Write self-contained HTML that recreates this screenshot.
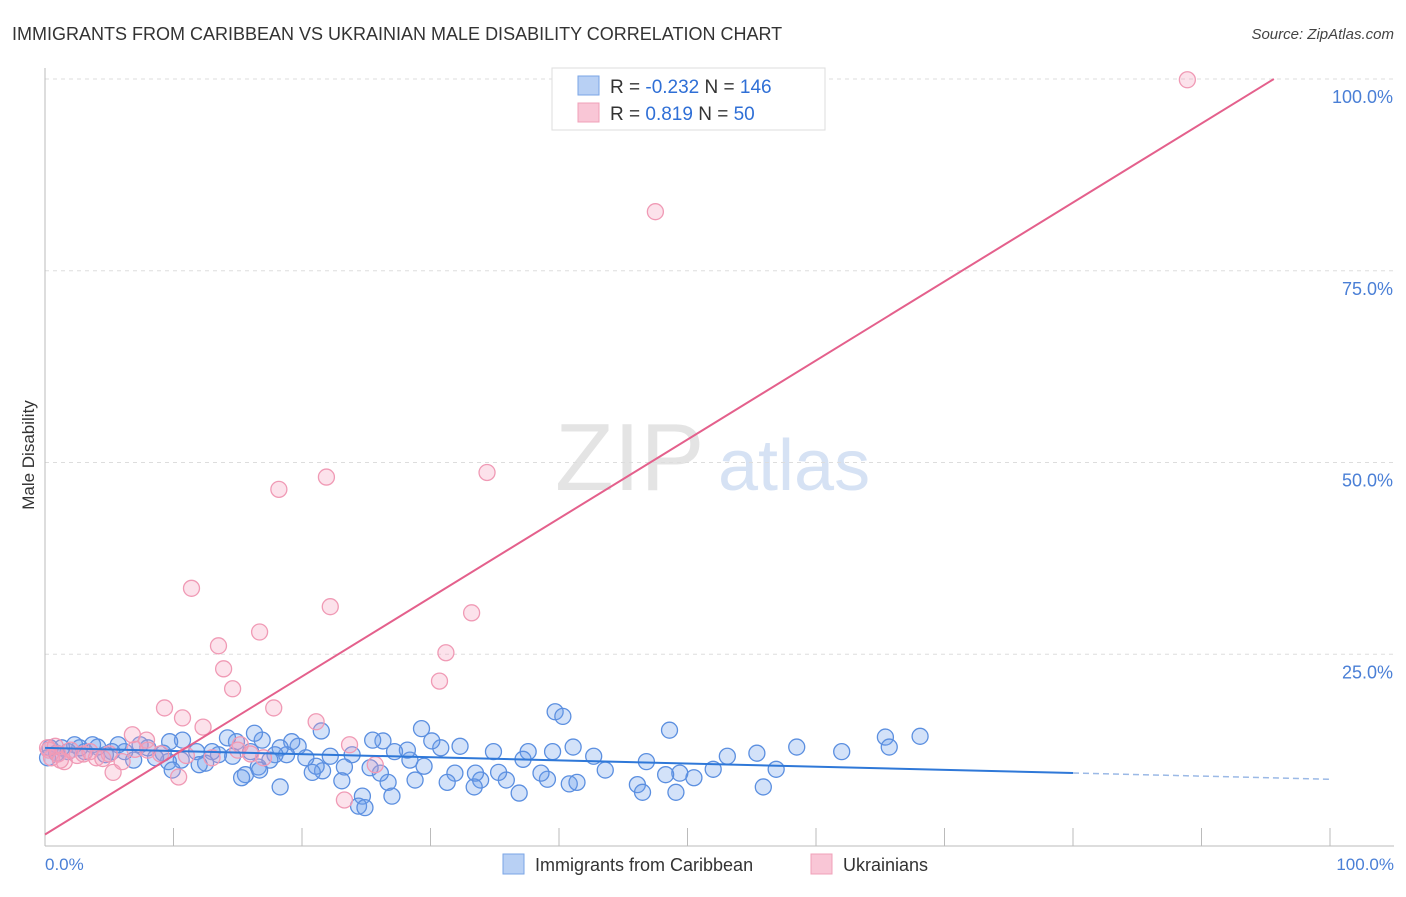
<!DOCTYPE html>
<html><head><meta charset="utf-8"><style>
body{margin:0;background:#fff;font-family:"Liberation Sans",sans-serif;}
svg text{font-family:"Liberation Sans",sans-serif;}
</style></head><body>
<svg id="chart" width="1406" height="892" xmlns="http://www.w3.org/2000/svg">
<text x="12" y="40" font-size="18" fill="#333">IMMIGRANTS FROM CARIBBEAN VS UKRAINIAN MALE DISABILITY CORRELATION CHART</text>
<text x="1394" y="39" font-size="15" fill="#444" text-anchor="end" font-style="italic">Source: ZipAtlas.com</text>
<text x="555" y="490" font-size="96" fill="#e4e4e4" font-family="Liberation Serif">ZIP</text>
<text x="718" y="490" font-size="72" fill="#d6e2f4">atlas</text>
<g id="grid"></g><g id="axes"></g><g id="pts"></g><g id="lines"></g>
<text transform="translate(34,455) rotate(-90)" font-size="17" fill="#333" text-anchor="middle">Male Disability</text>
<text x="45" y="870" font-size="17" fill="#4a7fd6">0.0%</text>
<text x="1394" y="870" font-size="17" fill="#4a7fd6" text-anchor="end">100.0%</text>
<g>
<rect x="552" y="68" width="273" height="62" fill="#fff" stroke="#ddd"/>
<rect x="578" y="76" width="21" height="19" fill="#b8d0f4" stroke="#7aa5e6"/>
<rect x="578" y="103" width="21" height="19" fill="#f9c6d6" stroke="#f0a0b8"/>
<text x="610" y="93" font-size="19" fill="#333">R = <tspan fill="#2f6fd6">-0.232</tspan>   N = <tspan fill="#2f6fd6">146</tspan></text>
<text x="610" y="120" font-size="19" fill="#333">R =   <tspan fill="#2f6fd6">0.819</tspan>   N =   <tspan fill="#2f6fd6">50</tspan></text>
</g>
<g>
<rect x="503" y="854" width="21" height="20" fill="#b8d0f4" stroke="#7aa5e6"/>
<text x="535" y="871" font-size="18" fill="#333">Immigrants from Caribbean</text>
<rect x="811" y="854" width="21" height="20" fill="#f9c6d6" stroke="#f0a0b8"/>
<text x="843" y="871" font-size="18" fill="#333">Ukrainians</text>
</g>
</svg>
<script>
const yTicks=[25,50,75,100];
const yTickLabels=["25.0%","50.0%","75.0%","100.0%"];
const xTicks=[0,10,20,30,40,50,60,70,80,90,100];
const blueX=[39.7,40.3,48.6,65.4,68.1,65.7,58.5,62,55.4,53.1,56.9,55.9,52,50.5,49.1,49.4,48.3,46.8,46.1,46.5,43.6,42.7,41.1,40.8,41.4,39.5,39.1,38.6,37.6,37.2,36.9,35.9,35.3,34.9,33.9,33.4,33.5,32.3,31.9,31.3,30.8,30.1,29.3,29.5,28.8,28.4,28.2,27.2,26.7,27,26.3,25.5,26.1,25.3,24.7,24.4,23.9,23.3,23.1,21.5,22.2,21.6,21.1,20.8,20.3,19.7,19.2,18.8,18.3,17.9,17.5,16.9,16.6,16.3,16,15.6,15.3,14.9,14.6,14.2,13.5,13,12.5,11.8,10.7,10.6,9.6,9.7,9.2,8.6,8,7.4,6.9,6.2,5.7,5.2,4.7,4.1,3.7,3.1,2.7,2.3,1.8,1.3,0.9,0.4,0.2,18.3,24.9,16.7,12,9.9];
const blueY=[17.5,16.9,15.1,14.2,14.3,12.9,12.9,12.3,12.1,11.7,10,7.7,10,8.9,7,9.5,9.3,11,8,7,9.9,11.7,12.9,8.1,8.3,12.3,8.7,9.5,12.3,11.3,6.9,8.6,9.6,12.3,8.6,7.7,9.5,13,9.5,8.3,12.8,13.7,15.3,10.4,8.6,11.2,12.5,12.3,8.3,6.5,13.7,13.8,9.5,10.2,6.5,5.2,11.9,10.3,8.5,15,11.7,9.8,10.4,9.6,11.5,13,13.6,11.9,12.8,11.9,11.2,13.8,10.3,14.7,12.3,9.3,8.9,13.6,11.7,14.1,11.9,12.3,10.8,12.3,13.8,11.2,11,13.6,12.1,11.5,12.8,13.2,11.2,12.3,13.2,12.3,11.9,12.9,13.2,12.3,12.8,13.2,12.3,12.8,12.1,12.8,11.5,7.7,5,9.9,10.6,9.9];
const pinkX=[88.9,47.5,34.4,21.9,18.2,11.4,22.2,33.2,13.5,16.7,31.2,13.9,30.7,14.6,9.3,17.8,10.7,12.3,21.1,6.8,7.9,5.3,10.4,23.3,25.7,23.7,15.2,0.3,0.5,1,1.5,2,3,4,5,6,8,9,13,15,16,17,0.8,1.2,2.5,3.5,4.5,7,11,0.2];
const pinkY=[99.9,82.7,48.7,48.1,46.5,33.6,31.2,30.4,26.1,27.9,25.2,23.1,21.5,20.5,18,18,16.7,15.5,16.2,14.5,13.8,9.6,9,6,10.6,13.2,13.2,12.5,11.5,12,11,12.5,12,11.5,12,11,12.5,12,11.5,12.5,12,11.5,13,11.2,11.8,12.3,11.4,12.6,11.8,12.8];
const blueIntercept=12.8, blueSlope=-0.041, blueSolidEnd=80;
const pinkIntercept=1.5, pinkSlope=1.03;
const X0=45,X1=1330,Y0=846,Y100=79;
const sx=v=>X0+(X1-X0)*v/100, sy=v=>Y0-(Y0-Y100)*v/100;
const NS="http://www.w3.org/2000/svg";
function mk(p,t,a){const e=document.createElementNS(NS,t);for(const k in a)e.setAttribute(k,a[k]);p.appendChild(e);return e;}
const grid=document.getElementById('grid'),axes=document.getElementById('axes'),pts=document.getElementById('pts'),lines=document.getElementById('lines');
yTicks.forEach((t,i)=>{
 const l=mk(grid,'line',{x1:X0,x2:1394,y1:sy(t),y2:sy(t),stroke:'#ddd','stroke-dasharray':'4,4'});
 
 
 const tx=mk(grid,'text',{x:1393,y:sy(t)+24,'font-size':18,fill:'#4a7fd6','text-anchor':'end'});
 tx.textContent=yTickLabels[i];
 
 
});
const ya=mk(axes,'line',{x1:X0,x2:X0,y1:68,y2:846,stroke:'#bbb'});


const xa=mk(axes,'line',{x1:X0,x2:1394,y1:846,y2:846,stroke:'#bbb'});


xTicks.forEach(t=>{
 const k=mk(axes,'line',{x1:sx(t),x2:sx(t),y1:828,y2:846,stroke:'#bbb'});
 
 
});
blueX.forEach((x,i)=>{
 const c=mk(pts,'circle',{cx:sx(x),cy:sy(blueY[i]),r:8,fill:'rgba(110,160,235,0.3)',stroke:'#5b8fe0','stroke-width':1.3});
 
 
});
pinkX.forEach((x,i)=>{
 const c=mk(pts,'circle',{cx:sx(x),cy:sy(pinkY[i]),r:8,fill:'rgba(245,160,190,0.3)',stroke:'#f09ab5','stroke-width':1.3});
 
 
});
const bl=mk(lines,'line',{x1:sx(0),y1:sy(blueIntercept),x2:sx(blueSolidEnd),y2:sy(blueIntercept+blueSlope*blueSolidEnd),stroke:'#2f78d8','stroke-width':2});


const bd=mk(lines,'line',{x1:sx(blueSolidEnd),y1:sy(blueIntercept+blueSlope*blueSolidEnd),x2:sx(100),y2:sy(blueIntercept+blueSlope*100),stroke:'#9bb9e6','stroke-width':1.5,'stroke-dasharray':'6,4'});


const xe=(100-pinkIntercept)/pinkSlope;
const pl=mk(lines,'line',{x1:sx(0),y1:sy(pinkIntercept),x2:sx(xe),y2:sy(100),stroke:'#e4608c','stroke-width':2});


</script>
</body></html>
